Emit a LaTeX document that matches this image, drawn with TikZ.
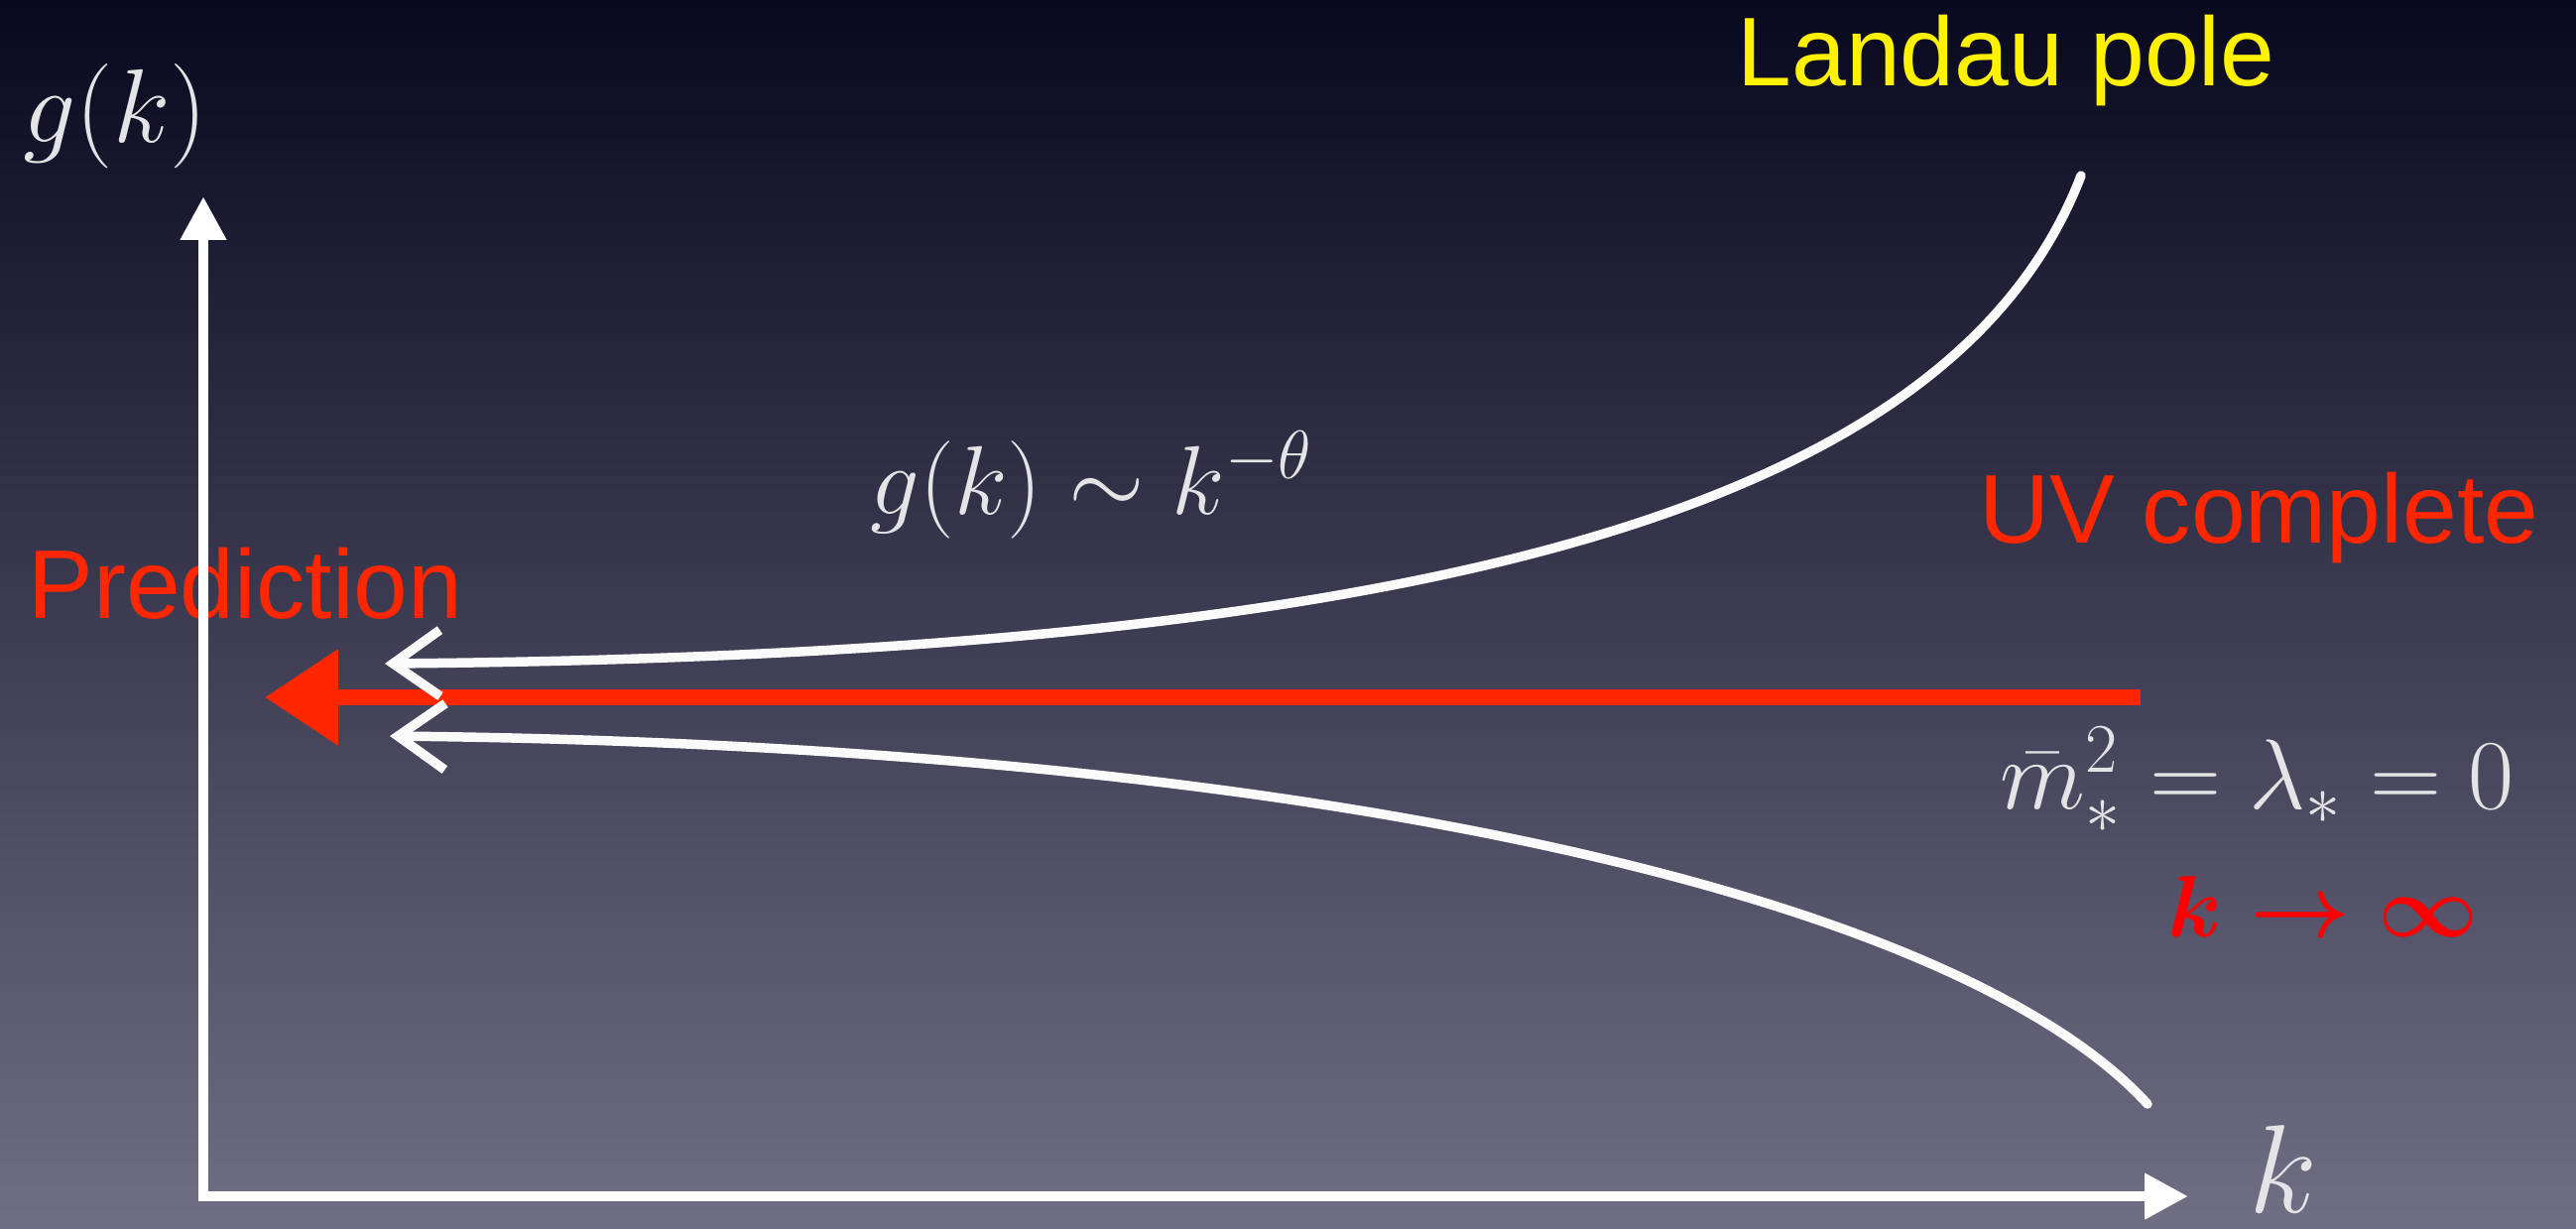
\documentclass[tikz,border=0pt]{standalone}
\usepackage{fix-cm}
\usepackage{amsmath}
\usepackage{fontspec}
\newfontfamily\slidefont{Liberation Sans}
\usetikzlibrary{arrows.meta}

\definecolor{slidetop}{RGB}{8,8,30}
\definecolor{slidemid}{RGB}{50,50,82}
\definecolor{slidebot}{RGB}{112,110,132}
\definecolor{chalkred}{RGB}{255,38,0}
\definecolor{chalkwhite}{RGB}{250,250,250}
\definecolor{formula}{RGB}{228,228,230}

\tikzset{
  axis/.style={white,line width=3.1pt,line join=miter,{Triangle[length=12.5pt,width=12.5pt]}-{Triangle[length=12.5pt,width=12.5pt]}},
  flow/.style={chalkwhite,line width=2.7pt,line cap=round,{Straight Barb[length=13.5pt,width=19pt]}-},
  redflow/.style={chalkred,line width=4.3pt,-{Triangle[length=21pt,width=26.5pt]}},
  slidetext/.style={font={\slidefont\fontsize{28}{34}\selectfont},inner sep=0pt,anchor=base west},
  mathtext/.style={text=formula,inner sep=0pt,anchor=base west}
}

\begin{document}
\begin{tikzpicture}[x=0.01cm,y=-0.01cm]
  \shade[top color=slidetop,middle color=slidemid,bottom color=slidebot] (0,0) rectangle (2597,1238);
  \useasboundingbox (0,0) rectangle (2597,1238);

  % labels
  \node[slidetext,text=yellow] (landau) at (1751,86) {Landau pole};
  \node[slidetext,text=chalkred] (uv) at (1995,547) {UV complete};
  \node[slidetext,text=chalkred] (pred) at (28,623) {Prediction};
  \node[mathtext,font=\fontsize{30}{36}\selectfont] (gaxis) at (23,143) {$g(k)$};
  \node[mathtext,font=\fontsize{36}{43}\selectfont] (kaxis) at (2267,1222) {$k$};
  \node[mathtext,font=\fontsize{28}{34}\selectfont] (scaling) at (877,518) {$g(k)\sim k^{-\theta}$};
  \node[mathtext,font=\fontsize{28.5}{34}\selectfont] (fixpt) at (2016,815) {$\bar{m}_*^2=\lambda_*=0$};
  \node[mathtext,text=red,font=\fontsize{25}{30}\selectfont] (kinf) at (2185,944) {$\boldsymbol{k\to\infty}$};

  \coordinate (origin) at (205,1206);
  \coordinate (ytip) at (205,198);
  \coordinate (xtip) at (2206,1206);
  \coordinate (redtail) at (2158,703);
  \coordinate (redhead) at (267,703);
  \coordinate (uphead) at (388,669);
  \coordinate (upend) at (2098,177);
  \coordinate (lowhead) at (393,742);
  \coordinate (lowend) at (2165,1113);

  % flows
  \draw[redflow] (redtail) -- (redhead);
  \draw[flow] (uphead) .. controls (1450,660) and (1970,510) .. (upend);
  \draw[flow] (lowhead) .. controls (1350,752) and (1980,910) .. (lowend);

  % axes
  \draw[axis] (ytip) -- (origin) -- (xtip);
\end{tikzpicture}
\end{document}
